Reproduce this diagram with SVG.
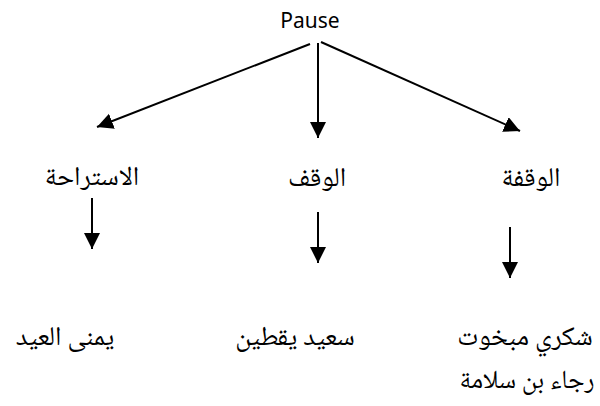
<svg xmlns="http://www.w3.org/2000/svg" width="600" height="406" viewBox="0 0 600 406">
  <style>
    .lbl { font-family: "Noto Naskh Arabic", "DejaVu Sans", "Noto Sans", sans-serif; font-size: 27px; fill: #000; text-anchor: middle; }
    .lat { font-family: "Noto Sans", "Liberation Sans", sans-serif; font-size: 21px; fill: #000; text-anchor: middle; }
    .edge { stroke: #000; stroke-width: 2; fill: none; marker-end: url(#head); }
  </style>
  <defs>
    <marker id="head" markerUnits="userSpaceOnUse" markerWidth="18" markerHeight="18" refX="16" refY="8" orient="auto">
      <path d="M0,0 L16,8 L0,16 Z" fill="#000"/>
    </marker>
  </defs>
  <rect width="600" height="406" fill="#fff"/>

  <g id="connectors">
    <path class="edge" d="M310,44 L97,127"/>
    <path class="edge" d="M318,43 L318,138"/>
    <path class="edge" d="M321,42 L520,131"/>
    <path class="edge" d="M92,198 L92,249"/>
    <path class="edge" d="M318,212 L318,263"/>
    <path class="edge" d="M510,227 L510,278"/>
  </g>

  <g id="root"><text class="lat" x="310" y="28">Pause</text></g>
  <g id="istiraha"><text class="lbl" x="92" y="185">الاستراحة</text></g>
  <g id="waqf"><text class="lbl" x="317" y="186">الوقف</text></g>
  <g id="waqfa"><text class="lbl" x="531" y="186">الوقفة</text></g>
  <g id="yumna"><text class="lbl" x="65" y="345">يمنى العيد</text></g>
  <g id="said"><text class="lbl" x="295" y="345">سعيد يقطين</text></g>
  <g id="shukri">
    <text class="lbl" x="525" y="345">شكري مبخوت</text>
    <text class="lbl" x="527" y="388" style="font-size:26px">رجاء بن سلامة</text>
  </g>
</svg>
